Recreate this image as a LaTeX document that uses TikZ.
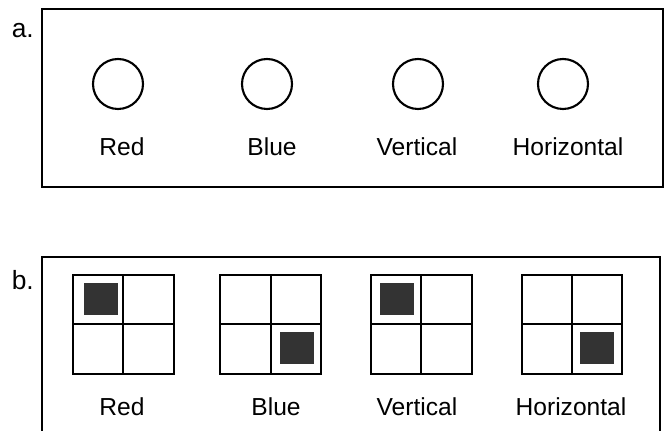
\documentclass[tikz,border=0pt]{standalone}
\usepackage{fontspec}
\setmainfont{Liberation Sans}

\tikzset{
  panel/.style={line width=1.3pt},
  cell/.style={line width=1.4pt},
  ring/.style={line width=1.2pt},
  blob/.style={fill=black!80},
  lbl/.style={font=\fontsize{14}{16}\selectfont},
  tag/.style={font=\fontsize{15}{17}\selectfont}
}

\begin{document}
\begin{tikzpicture}[x=0.02cm,y=-0.02cm]
\useasboundingbox (0,0) rectangle (670,431);
\clip (0,0) rectangle (670,431);

% panel a
\draw[panel] (42,9) rectangle (663,187);
\node[tag,anchor=east] (taga) at (40,31) {a.};

\draw[ring] (118,84) circle (25);
\draw[ring] (267,84) circle (25);
\draw[ring] (418,84) circle (25);
\draw[ring] (563,84) circle (25);

\node[lbl] (reda) at (122,147) {Red};
\node[lbl] (bluea) at (272,147) {Blue};
\node[lbl] (verta) at (417,147) {Vertical};
\node[lbl] (hora) at (568,147) {Horizontal};

% panel b
\draw[panel] (42,257) rectangle (660,445);
\node[tag,anchor=east] (tagb) at (40,280) {b.};

\fill[blob] (84,283) rectangle (118,315);
\fill[blob] (280,332) rectangle (314,364);
\fill[blob] (380,283) rectangle (414,315);
\fill[blob] (580,332) rectangle (614,364);

\draw[cell] (73,275) rectangle (174,374);
\draw[cell] (123,275) -- (123,374);
\draw[cell] (73,324) -- (174,324);

\draw[cell] (220,275) rectangle (321,374);
\draw[cell] (271,275) -- (271,374);
\draw[cell] (220,324) -- (321,324);

\draw[cell] (371,275) rectangle (472,374);
\draw[cell] (421,275) -- (421,374);
\draw[cell] (371,324) -- (472,324);

\draw[cell] (522,275) rectangle (622,374);
\draw[cell] (572,275) -- (572,374);
\draw[cell] (522,324) -- (622,324);

\node[lbl] (redb) at (122,407) {Red};
\node[lbl] (blueb) at (276,407) {Blue};
\node[lbl] (vertb) at (417,407) {Vertical};
\node[lbl] (horb) at (571,407) {Horizontal};
\end{tikzpicture}
\end{document}
